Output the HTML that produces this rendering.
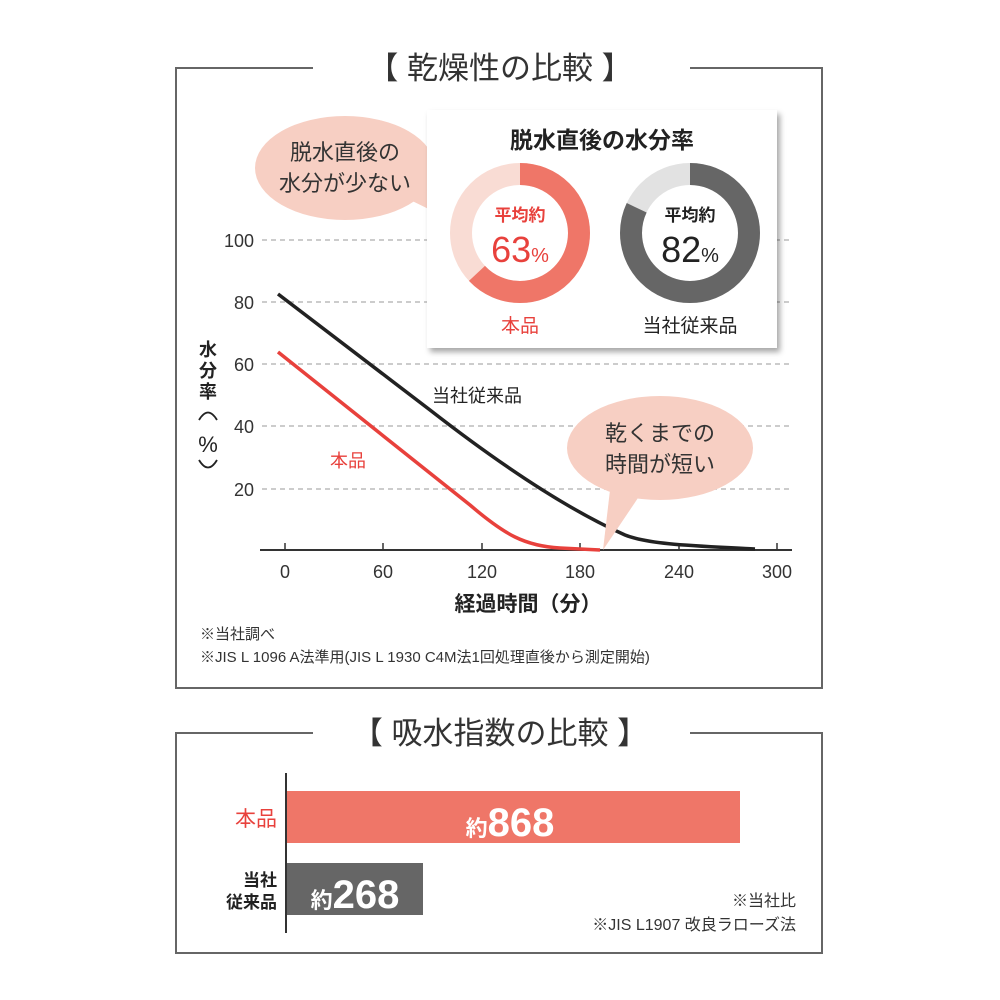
<!DOCTYPE html>
<html><head><meta charset="utf-8"><style>
body{margin:0;background:#fff;}
svg{display:block;font-family:"Liberation Sans","Noto Sans CJK JP",sans-serif;}
</style></head><body>
<svg width="1000" height="1000" viewBox="0 0 1000 1000">
<defs><filter id="sh" x="-10%" y="-10%" width="130%" height="130%"><feDropShadow dx="3" dy="4" stdDeviation="3" flood-color="#000" flood-opacity="0.35"/></filter></defs>
<path d="M313 68 H176 V688 H822 V68 H690" fill="none" stroke="#666" stroke-width="2"/>
<text x="500" y="79" font-size="31" text-anchor="middle" fill="#333">【 乾燥性の比較 】</text>
<g stroke="#bbb" stroke-width="1.5" stroke-dasharray="5,4">
<line x1="262" y1="240" x2="792" y2="240"/><line x1="262" y1="302" x2="792" y2="302"/>
<line x1="262" y1="364" x2="792" y2="364"/><line x1="262" y1="426" x2="792" y2="426"/>
<line x1="262" y1="489" x2="792" y2="489"/></g>
<g font-size="18" fill="#333" text-anchor="end">
<text x="254" y="247">100</text><text x="254" y="309">80</text><text x="254" y="371">60</text><text x="254" y="433">40</text><text x="254" y="496">20</text></g>
<g font-size="18" font-weight="bold" fill="#222" text-anchor="middle">
<text x="208" y="356">水</text><text x="208" y="377">分</text><text x="208" y="398">率</text>
<text x="208" y="452" font-size="22" font-weight="normal">%</text></g>
<path d="M199 420 Q208 405 217 420" fill="none" stroke="#222" stroke-width="1.8"/>
<path d="M199 460 Q208 475 217 460" fill="none" stroke="#222" stroke-width="1.8"/>
<line x1="260" y1="550" x2="792" y2="550" stroke="#333" stroke-width="2"/>
<g stroke="#333" stroke-width="1.5"><line x1="285" y1="543" x2="285" y2="550"/><line x1="383" y1="543" x2="383" y2="550"/><line x1="482" y1="543" x2="482" y2="550"/><line x1="580" y1="543" x2="580" y2="550"/><line x1="679" y1="543" x2="679" y2="550"/><line x1="777" y1="543" x2="777" y2="550"/></g>
<g font-size="18" fill="#333" text-anchor="middle"><text x="285" y="578">0</text><text x="383" y="578">60</text><text x="482" y="578">120</text><text x="580" y="578">180</text><text x="679" y="578">240</text><text x="777" y="578">300</text></g>
<text x="528" y="611" font-size="21" font-weight="bold" fill="#222" text-anchor="middle">経過時間（分）</text>
<text x="200" y="639" font-size="15" fill="#333">※当社調べ</text>
<text x="200" y="662" font-size="15" fill="#333">※JIS L 1096 A法準用(JIS L 1930 C4M法1回処理直後から測定開始)</text>
<path d="M278 294 L430 410 C520 480 580 515 625 535 C650 545 700 546 755 549" fill="none" stroke="#222" stroke-width="3.5"/>
<path d="M278 352 L470 505 C505 535 525 546 560 548 L600 550" fill="none" stroke="#e8413c" stroke-width="3.5"/>
<text x="432" y="402" font-size="18" fill="#222">当社従来品</text>
<text x="330" y="467" font-size="18" fill="#e8413c">本品</text>
<path d="M610 490 L603 550 L640 495 Z" fill="#f7cfc3"/>
<ellipse cx="660" cy="448" rx="93" ry="52" fill="#f7cfc3"/>
<text x="660" y="441" font-size="22" fill="#333" text-anchor="middle">乾くまでの</text>
<text x="660" y="472" font-size="22" fill="#333" text-anchor="middle">時間が短い</text>
<path d="M400 195 L447 218 L420 175 Z" fill="#f7cfc3"/>
<ellipse cx="345" cy="168" rx="90" ry="52" fill="#f7cfc3"/>
<text x="345" y="160" font-size="22" fill="#333" text-anchor="middle">脱水直後の</text>
<text x="345" y="191" font-size="22" fill="#333" text-anchor="middle">水分が少ない</text>
<rect x="427" y="110" width="350" height="238" fill="#fff" filter="url(#sh)"/>
<text x="602" y="148" font-size="23" font-weight="bold" fill="#222" text-anchor="middle">脱水直後の水分率</text>
<circle cx="520" cy="233" r="59" fill="none" stroke="#f9dcd4" stroke-width="22"/>
<circle cx="520" cy="233" r="59" fill="none" stroke="#ef7668" stroke-width="22" stroke-dasharray="233.5 400" transform="rotate(-90 520 233)"/>
<circle cx="690" cy="233" r="59" fill="none" stroke="#e2e2e2" stroke-width="22"/>
<circle cx="690" cy="233" r="59" fill="none" stroke="#666" stroke-width="22" stroke-dasharray="304 400" transform="rotate(-90 690 233)"/>
<text x="520" y="221" font-size="17" font-weight="bold" fill="#e8413c" text-anchor="middle">平均約</text>
<text x="520" y="262" font-size="36" fill="#e8413c" text-anchor="middle">63<tspan font-size="20">%</tspan></text>
<text x="690" y="221" font-size="17" font-weight="bold" fill="#222" text-anchor="middle">平均約</text>
<text x="690" y="262" font-size="36" fill="#222" text-anchor="middle">82<tspan font-size="20">%</tspan></text>
<text x="520" y="332" font-size="19" fill="#e8413c" text-anchor="middle">本品</text>
<text x="690" y="332" font-size="19" fill="#222" text-anchor="middle">当社従来品</text>
<path d="M313 733 H176 V953 H822 V733 H690" fill="none" stroke="#666" stroke-width="2"/>
<text x="500" y="744" font-size="31" text-anchor="middle" fill="#333">【 吸水指数の比較 】</text>
<line x1="286" y1="773" x2="286" y2="933" stroke="#333" stroke-width="2"/>
<rect x="287" y="791" width="453" height="52" fill="#ef7668"/>
<rect x="287" y="863" width="136" height="52" fill="#666"/>
<text x="510" y="836" fill="#fff" font-weight="bold" text-anchor="middle"><tspan font-size="22">約</tspan><tspan font-size="40">868</tspan></text>
<text x="355" y="908" fill="#fff" font-weight="bold" text-anchor="middle"><tspan font-size="22">約</tspan><tspan font-size="40">268</tspan></text>
<text x="277" y="826" font-size="21" fill="#e8413c" text-anchor="end">本品</text>
<text x="277" y="886" font-size="17" font-weight="bold" fill="#222" text-anchor="end">当社</text>
<text x="277" y="908" font-size="17" font-weight="bold" fill="#222" text-anchor="end">従来品</text>
<text x="796" y="906" font-size="16" fill="#333" text-anchor="end">※当社比</text>
<text x="796" y="930" font-size="16" fill="#333" text-anchor="end">※JIS L1907 改良ラローズ法</text>
</svg>
</body></html>
